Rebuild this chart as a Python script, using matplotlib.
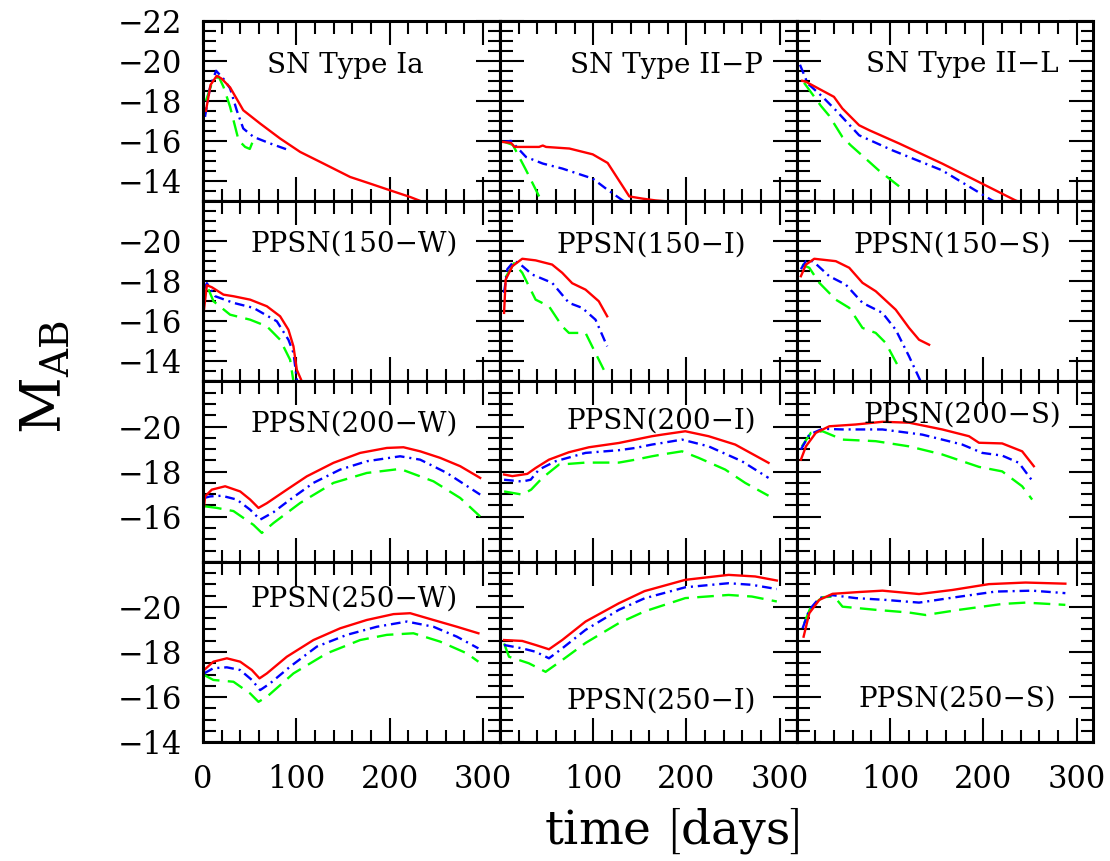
import matplotlib
matplotlib.use("Agg")
import matplotlib.pyplot as plt
from matplotlib.ticker import MultipleLocator

plt.rcParams["font.family"] = "DejaVu Serif"
plt.rcParams["mathtext.fontset"] = "dejavuserif"
plt.rcParams["lines.scale_dashes"] = False

# light curves, (time [days], M_AB); red = solid, blue = dash-dot, green = dashed
ia_red = [(3, -17.5), (8, -18.8), (14.6, -19.25), (20, -19.1), (28.9, -18.67), (43, -17.53),
          (61, -16.87), (82.5, -16.12), (104, -15.45), (129, -14.87), (157.6, -14.2),
          (179, -13.87), (200, -13.54), (222, -13.2), (233, -13.0), (260, -12.6)]
ia_blue = [(2, -17.2), (7.5, -18.7), (13.9, -19.5), (21.8, -19.1), (28.9, -18.62), (36, -17.53),
           (43, -16.62), (54, -16.2), (72, -15.87), (90, -15.57)]
ia_green = [(3, -18.0), (9.3, -18.87), (16.4, -19.23), (21.8, -18.7), (28.9, -17.7), (38, -16.03),
            (45, -15.7), (50, -15.6), (53, -15.95)]

iip_red = [(3, -15.95), (12, -15.9), (15.7, -15.7), (42, -15.7), (46, -15.77), (49.5, -15.7),
           (74.5, -15.62), (99.5, -15.33), (115.5, -14.9), (138.7, -13.23), (153, -13.12),
           (167, -13.03), (180, -12.98), (200, -12.9)]
iip_blue = [(3, -15.95), (12, -16.0), (28, -15.2), (46, -14.87), (67, -14.62), (99.5, -14.12),
            (113.7, -13.62), (131.6, -13.03), (150, -12.6)]
iip_green = [(5, -15.95), (13.9, -15.8), (28.2, -14.53), (42.4, -13.2), (46, -12.95), (55, -12.5)]

iil_red = [(6, -19.0), (10, -18.95), (40, -18.2), (49, -17.62), (67, -16.78), (78, -16.53),
           (110, -15.87), (156, -14.87), (234.6, -13.03), (260, -12.6)]
iil_blue = [(3.6, -19.8), (11.8, -18.87), (27.8, -18.2), (42, -17.53), (67, -16.28),
            (102.7, -15.53), (156, -14.53), (209.6, -13.03), (230, -12.7)]
iil_green = [(8, -18.9), (26, -17.75), (35, -17.25), (49, -16.2), (58, -15.78), (78, -14.95),
             (88, -14.53), (110, -13.73)]

w150_red = [(1, -16.6), (4, -17.8), (9.3, -17.7), (21.8, -17.33), (32.5, -17.25), (50.4, -17.08),
            (68.3, -16.75), (82.5, -16.25), (91.4, -15.58), (96.8, -14.75), (100.4, -13.58),
            (105.8, -13.0), (110, -12.5)]
w150_blue = [(1, -17.6), (4, -17.9), (12.9, -17.25), (32.5, -16.92), (53.9, -16.67), (79, -16.0),
             (91.4, -15.08), (96.8, -14.43), (100.4, -13.1), (103, -12.5)]
w150_green = [(5.7, -17.6), (11.1, -17.0), (28.9, -16.33), (50.4, -16.08), (68.3, -15.75),
              (82.5, -15.08), (93.2, -14.08), (96.8, -13.0), (99, -12.5)]

i150_red = [(4.5, -16.42), (6.2, -18.08), (13.4, -18.75), (24, -19.12), (38.3, -19.04),
            (56, -18.83), (66.8, -18.42), (77.5, -17.9), (91.8, -17.58), (106, -17.0), (115, -16.25)]
i150_blue = [(4.5, -17.42), (8, -18.6), (15.2, -19.0), (20.5, -18.9), (34.8, -18.33), (56, -17.92),
             (74, -16.92), (88.2, -16.67), (102.5, -16.08), (115, -14.75)]
i150_green = [(6.2, -18.2), (15.2, -18.9), (24, -18.42), (38.3, -17.08), (52.6, -16.75),
              (66.8, -15.75), (74, -15.42), (91.8, -15.42), (98.9, -14.75), (111.4, -13.58)]

s150_red = [(4.6, -18.25), (10, -18.83), (18.9, -19.12), (42, -19.0), (56.4, -18.67),
            (70.6, -17.92), (84.8, -17.5), (106.2, -16.58), (120.5, -15.67), (131.2, -15.08),
            (142, -14.83)]
s150_blue = [(4.6, -18.6), (10, -19.0), (17.5, -19.0), (35, -18.25), (52.7, -17.83), (70.6, -16.92),
             (92, -16.42), (106.2, -15.58), (120.5, -14.25), (133, -13.0), (137, -12.6)]
s150_green = [(5.7, -18.83), (13.6, -18.67), (24.3, -17.92), (42, -17.08), (56.4, -16.67),
              (70.6, -15.67), (84.8, -15.42), (95.5, -14.92), (109.8, -13.67)]

w200_red = [(1, -16.46), (2.1, -16.9), (9.3, -17.2), (23.6, -17.35), (39.7, -17.12), (50.4, -16.76),
            (59.3, -16.39), (68.3, -16.6), (89.7, -17.2), (111.1, -17.79), (139.7, -18.39),
            (168.3, -18.83), (196.9, -19.05), (214.7, -19.08), (232.6, -18.9), (254, -18.61),
            (275.5, -18.24), (296.9, -17.72)]
w200_blue = [(1, -16.83), (7.5, -16.9), (20, -16.93), (36.1, -16.76), (50.4, -16.31), (61.1, -15.87),
             (75.4, -16.2), (93.2, -16.76), (118.2, -17.5), (146.8, -18.09), (175.4, -18.46),
             (211.1, -18.68), (232.6, -18.53), (261.2, -17.94), (296.9, -16.98)]
w200_green = [(2, -16.46), (14.7, -16.39), (32.5, -16.25), (53.9, -15.64), (62.9, -15.28),
              (75.4, -15.72), (104, -16.61), (139.7, -17.5), (175.4, -17.94), (211.1, -18.12),
              (246.8, -17.57), (275.5, -16.83), (296.9, -16.01)]

i200_red = [(4.5, -17.87), (13.4, -17.8), (29.4, -17.9), (38.3, -18.16), (52.6, -18.53),
            (74, -18.86), (95.4, -19.08), (127.5, -19.27), (145.3, -19.42), (163, -19.57),
            (173.8, -19.64), (198.7, -19.79), (223.7, -19.57), (252.2, -19.2), (287.9, -18.39)]
i200_blue = [(4.5, -17.64), (24, -17.56), (33, -17.64), (41.9, -18.09), (59.7, -18.46),
             (91.8, -18.83), (127.5, -18.95), (145.3, -19.05), (163, -19.2), (173.8, -19.27),
             (195.2, -19.42), (223.7, -19.12), (259.4, -18.46), (287.9, -17.72)]
i200_green = [(4.5, -17.12), (24, -16.98), (33.5, -17.2), (45.5, -17.72), (63.3, -18.31),
              (91.8, -18.4), (127.5, -18.4), (145.3, -18.53), (163, -18.68), (173.8, -18.76),
              (195.2, -18.9), (213, -18.61), (241.5, -18.09), (262.9, -17.5), (287.9, -16.93)]

s200_red = [(4.6, -18.53), (10, -19.12), (20.6, -19.72), (35, -20.01), (63.4, -20.09), (92, -20.21),
            (120.5, -20.17), (156.1, -19.87), (184.7, -19.57), (195.4, -19.28), (220.3, -19.25),
            (241.7, -18.9), (254.2, -18.24)]
s200_blue = [(4.6, -18.98), (13.6, -19.64), (27.8, -19.9), (49.2, -19.87), (92, -19.87),
             (134.8, -19.64), (177.5, -19.2), (198.9, -18.83), (220.3, -18.71), (238.2, -18.39),
             (254.2, -17.5)]
s200_green = [(5.7, -19.12), (15.3, -19.72), (27.8, -19.79), (49.2, -19.42), (84.8, -19.35),
              (120.5, -19.12), (156.1, -18.76), (195.4, -18.21), (220.3, -18.01), (241.7, -17.35),
              (252.4, -16.76)]

w250_red = [(1, -17.2), (11, -17.57), (25.4, -17.72), (39.7, -17.57), (52.2, -17.2), (60.4, -16.83),
            (68.3, -17.05), (89.7, -17.79), (118.2, -18.53), (146.8, -19.05), (175.4, -19.42),
            (204, -19.68), (221.9, -19.72), (246.8, -19.42), (271.9, -19.12), (295, -18.83)]
w250_blue = [(1, -17.05), (11, -17.28), (25.4, -17.32), (39.7, -17.2), (52.2, -16.76), (61.1, -16.31),
             (71.8, -16.61), (93.2, -17.35), (121.9, -18.24), (154, -18.76), (186.2, -19.12),
             (218.3, -19.35), (246.8, -19.12), (271.9, -18.68), (295, -18.16)]
w250_green = [(1, -16.98), (11, -16.76), (32.5, -16.68), (50.4, -16.16), (59.3, -15.79),
              (68.3, -16.01), (96.8, -17.05), (132.6, -17.94), (168.3, -18.53), (196.9, -18.76),
              (225.4, -18.83), (254, -18.46), (282.6, -17.94), (295, -17.57)]

i250_red = [(4.5, -18.53), (24, -18.49), (38.3, -18.31), (52.6, -18.12), (66.8, -18.53),
            (91.8, -19.35), (127.5, -20.16), (155, -20.7), (198.7, -21.2), (245.1, -21.42),
            (273.6, -21.35), (296.8, -21.17)]
i250_blue = [(4.5, -18.31), (24, -18.16), (38.3, -18.01), (52.6, -17.72), (66.8, -18.16),
             (91.8, -18.98), (127.5, -19.87), (155, -20.38), (198.7, -20.87), (245.1, -21.05),
             (270, -20.98), (296.8, -20.79)]
i250_green = [(4.5, -18.38), (9.8, -17.79), (31, -17.5), (49, -17.12), (66.8, -17.64),
              (91.8, -18.4), (127.5, -19.28), (155, -19.8), (198.7, -20.39), (245.1, -20.53),
              (270, -20.46), (296.8, -20.24)]

s250_red = [(7.5, -18.68), (13.6, -19.72), (24.3, -20.31), (38.5, -20.58), (67, -20.66), (92, -20.72),
            (131.2, -20.57), (166.8, -20.75), (206.1, -21.01), (245.3, -21.08), (288, -21.03)]
s250_blue = [(6.4, -19.05), (13.6, -19.87), (24.3, -20.39), (38.5, -20.52), (63.4, -20.39),
             (95.5, -20.31), (131.2, -20.19), (170.4, -20.43), (213.2, -20.68), (252.4, -20.72),
             (288, -20.61)]
s250_green = [(8.2, -19.28), (15.3, -20.01), (27.8, -20.43), (40.3, -20.46), (49.2, -20.01),
              (84.8, -19.87), (120.5, -19.75), (138.3, -19.64), (174, -19.87), (220.3, -20.13),
              (245.3, -20.19), (288, -20.09)]

TITLES = ["SN Type Ia", "SN Type II\u2212P", "SN Type II\u2212L",
          "PPSN(150\u2212W)", "PPSN(150\u2212I)", "PPSN(150\u2212S)",
          "PPSN(200\u2212W)", "PPSN(200\u2212I)", "PPSN(200\u2212S)",
          "PPSN(250\u2212W)", "PPSN(250\u2212I)", "PPSN(250\u2212S)"]
CURVES = [(ia_red, ia_blue, ia_green), (iip_red, iip_blue, iip_green), (iil_red, iil_blue, iil_green),
          (w150_red, w150_blue, w150_green), (i150_red, i150_blue, i150_green),
          (s150_red, s150_blue, s150_green),
          (w200_red, w200_blue, w200_green), (i200_red, i200_blue, i200_green),
          (s200_red, s200_blue, s200_green),
          (w250_red, w250_blue, w250_green), (i250_red, i250_blue, i250_green),
          (s250_red, s250_blue, s250_green)]

Y_TICKS = [-22, -20, -18, -16, -14]
Y_LABELS = [["\u221222", "\u221220", "\u221218", "\u221216", "\u221214"],
            ["", "\u221220", "\u221218", "\u221216", "\u221214"],
            ["", "\u221220", "\u221218", "\u221216", ""],
            ["", "\u221220", "\u221218", "\u221216", "\u221214"]]
ROW_YLIM = [(-13, -22), (-13, -22), (-14, -22), (-14, -22)]
X_TICKS = [0, 100, 200, 300]
X_LABELS = [["0", "100", "200", "300"], ["", "100", "200", "300"], ["", "100", "200", "300"]]

# title placement (axes fraction, baseline)
TITLE_POS = [(0.48, 0.712), (0.56, 0.712), (0.56, 0.717),
             (0.51, 0.722), (0.51, 0.714), (0.525, 0.713),
             (0.51, 0.723), (0.543, 0.74), (0.557, 0.77),
             (0.51, 0.75), (0.543, 0.187), (0.54, 0.196)]

STYLES = [("#ff0000", "-"), ("#0000ff", (0, (7, 3.5, 1.5, 3.5))), ("#00ff00", (0, (12, 6)))]

fig = plt.figure(figsize=(11.1, 8.61), dpi=100)
gs = fig.add_gridspec(4, 3, left=0.183, right=0.985, top=0.976, bottom=0.138,
                      hspace=0, wspace=0)

for i in range(4):
    for j in range(3):
        k = 3 * i + j
        ax = fig.add_subplot(gs[i, j])
        # draw green, then blue, then red on top
        for pts, (color, ls) in reversed(list(zip(CURVES[k], STYLES))):
            ax.plot([p[0] for p in pts], [p[1] for p in pts], color=color, ls=ls, lw=1.7)
        ax.set_xlim(0, 318)
        ax.set_ylim(*ROW_YLIM[i])
        ax.set_xticks(X_TICKS)
        ax.set_yticks(Y_TICKS)
        ax.xaxis.set_minor_locator(MultipleLocator(20))
        ax.yaxis.set_minor_locator(MultipleLocator(0.5))
        ax.set_xticklabels(X_LABELS[j] if i == 3 else [""] * 4)
        ax.set_yticklabels(Y_LABELS[i] if j == 0 else [""] * 5)
        ax.tick_params(which="both", direction="in", top=True, right=True, width=1.5,
                       labelsize=22)
        ax.tick_params(which="major", length=17)
        ax.tick_params(which="minor", length=9)
        ax.tick_params(axis="y", pad=15)
        ax.tick_params(axis="x", pad=16)
        for sp in ax.spines.values():
            sp.set_linewidth(2.2)
        tx, ty = TITLE_POS[k]
        ax.text(tx, ty, TITLES[k], transform=ax.transAxes, ha="center", va="baseline",
                fontsize=20)

fig.text(0.041, 0.562, r"$\mathrm{M_{AB}}$", rotation=90, ha="center", va="center",
         fontsize=40)
fig.text(0.605, 0.036, r"$\mathrm{time}\ \left[\mathrm{days}\right]$", ha="center",
         va="center", fontsize=34)

fig.savefig("out.png", dpi=100)
